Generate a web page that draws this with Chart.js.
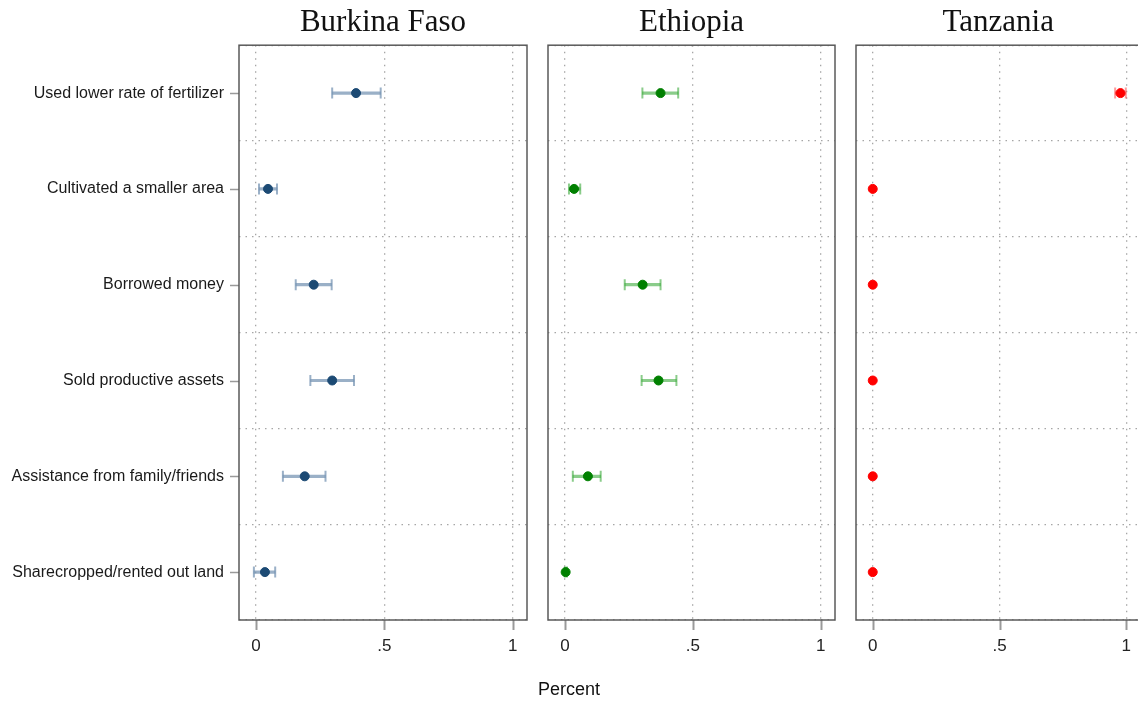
<!DOCTYPE html>
<html>
<head>
<meta charset="utf-8">
<script src="https://cdn.jsdelivr.net/npm/chart.js@4/dist/chart.umd.min.js"></script>
<style>
  html, body { margin: 0; padding: 0; background: #fff; }
  body { width: 1138px; height: 703px; overflow: hidden; position: relative; }
  .panel { position: absolute; top: 0; height: 703px; }
  #xlabel { position: absolute; top: 679px; left: 0; width: 1138px; text-align: center;
            font: 18px "Liberation Sans", Arial, sans-serif; color: #111; }
</style>
</head>
<body>
<div class="panel" style="left:0;width:540px"><canvas id="c1"></canvas></div>
<div class="panel" style="left:540px;width:305px"><canvas id="c2"></canvas></div>
<div class="panel" style="left:848px;width:300px"><canvas id="c3"></canvas></div>
<div id="xlabel">Percent</div>
<script>
// Coping strategies, share of households with 95% confidence intervals
const strategies = [
  'Used lower rate of fertilizer',
  'Cultivated a smaller area',
  'Borrowed money',
  'Sold productive assets',
  'Assistance from family/friends',
  'Sharecropped/rented out land'
];
const countries = ['Burkina Faso', 'Ethiopia', 'Tanzania'];

const burkinaMean  = [0.390, 0.047, 0.225, 0.297, 0.190, 0.035];
const burkinaLow   = [0.297, 0.012, 0.155, 0.212, 0.105, -0.008];
const burkinaHigh  = [0.486, 0.082, 0.295, 0.382, 0.271, 0.075];

const ethiopiaMean = [0.374, 0.036, 0.304, 0.366, 0.090, 0.003];
const ethiopiaLow  = [0.303, 0.016, 0.234, 0.300, 0.031, 0.000];
const ethiopiaHigh = [0.443, 0.060, 0.374, 0.436, 0.140, 0.008];

const tanzaniaMean = [0.977, 0, 0, 0, 0, 0];
const tanzaniaLow  = [0.956, 0, 0, 0, 0, 0];
const tanzaniaHigh = [0.998, 0, 0, 0, 0, 0];

const xTickValues = [0, 0.5, 1];
const xTickLabels = ['0', '.5', '1'];

const FONT_SANS = '"Liberation Sans", Arial, sans-serif';
const FONT_SERIF = '"Liberation Serif", "Times New Roman", serif';

// Panel frame plus solid tick marks (grid lines themselves are dotted)
const framePlugin = {
  id: 'frame',
  afterDraw(chart, args, opts) {
    const { ctx, chartArea: a, scales } = chart;
    ctx.save();
    // x tick marks below the frame
    ctx.strokeStyle = '#9a9a9a';
    ctx.lineWidth = 2;
    scales.x.ticks.forEach(t => {
      const px = Math.round(scales.x.getPixelForValue(t.value)) + 0.5;
      ctx.beginPath(); ctx.moveTo(px, a.bottom); ctx.lineTo(px, a.bottom + 10); ctx.stroke();
    });
    // y tick marks at category centres (first panel only)
    if (opts.yTicks) {
      ctx.lineWidth = 1.5;
      strategies.forEach((s, i) => {
        const py = Math.round(scales.y.getPixelForValue(i)) + 0.5;
        ctx.beginPath(); ctx.moveTo(a.left - 9, py); ctx.lineTo(a.left, py); ctx.stroke();
      });
    }
    // frame
    ctx.strokeStyle = '#5a5a5a';
    ctx.lineWidth = 1.5;
    ctx.strokeRect(a.left, a.top, a.right - a.left, a.bottom - a.top);
    ctx.restore();
  }
};

function makePanel(id, title, mean, low, high, pointColor, barColor, first, padL, padR) {
  const rows = strategies.map((s, i) => i);
  new Chart(document.getElementById(id), {
    type: 'bar',
    data: {
      labels: strategies,
      datasets: [
        { // confidence interval
          type: 'bar',
          data: low.map((lo, i) => [lo, high[i]]),
          backgroundColor: barColor,
          borderWidth: 0,
          barThickness: 2.5,
          order: 3
        },
        { // interval caps
          type: 'line',
          indexAxis: 'y',
          data: rows.flatMap(i => [{ x: low[i], y: strategies[i] }, { x: high[i], y: strategies[i] }])
                    .filter(p => p.x !== 0 || mean[strategies.indexOf(p.y)] !== 0),
          showLine: false,
          pointStyle: 'line',
          rotation: 90,
          pointRadius: 5.5,
          pointBorderWidth: 2,
          pointBorderColor: barColor,
          order: 2
        },
        { // estimate
          type: 'line',
          indexAxis: 'y',
          data: rows.map(i => ({ x: mean[i], y: strategies[i] })),
          showLine: false,
          pointStyle: 'circle',
          pointRadius: 4.5,
          pointBorderWidth: 1,
          pointBackgroundColor: pointColor,
          pointBorderColor: pointColor,
          order: 1
        }
      ]
    },
    options: {
      indexAxis: 'y',
      responsive: false,
      animation: false,
      events: [],
      layout: { padding: { left: padL, right: padR, top: 0, bottom: 0 } },
      plugins: {
        legend: { display: false },
        tooltip: { enabled: false },
        title: {
          display: true, text: title, fullSize: false, color: '#111',
          font: { family: FONT_SERIF, size: 31, weight: 'normal' },
          padding: { top: 4, bottom: 4 }
        },
        frame: { yTicks: first }
      },
      scales: {
        x: {
          type: 'linear', position: 'bottom',
          min: -0.066, max: 1.056,
          afterBuildTicks: s => { s.ticks = xTickValues.map(v => ({ value: v })); },
          afterFit: s => { s.height = 703 - 620; },
          ticks: {
            callback: v => xTickLabels[xTickValues.indexOf(v)],
            color: '#222', padding: 16, maxRotation: 0,
            font: { family: FONT_SANS, size: 17 }
          },
          grid: { color: '#a6a6a6', lineWidth: 1.3, drawTicks: false },
          border: { display: false, dash: [1.5, 5] }
        },
        y: {
          type: 'category', offset: true,
          afterFit: s => { s.width = first ? 239 : 0; },
          ticks: {
            display: first, color: '#1a1a1a', padding: 15,
            font: { family: FONT_SANS, size: 16 }
          },
          grid: { color: '#a6a6a6', lineWidth: 1.3, offset: true, drawTicks: false },
          border: { display: false, dash: [1.5, 5] }
        }
      }
    },
    plugins: [framePlugin]
  });
}

function sizeCanvas(id, w) {
  const c = document.getElementById(id);
  c.width = w; c.height = 703;
  c.style.width = w + 'px'; c.style.height = '703px';
}
sizeCanvas('c1', 540); sizeCanvas('c2', 305); sizeCanvas('c3', 300);

makePanel('c1', countries[0], burkinaMean, burkinaLow, burkinaHigh, '#1c4a74', 'rgba(120,150,180,0.75)', true, 0, 13);
makePanel('c2', countries[1], ethiopiaMean, ethiopiaLow, ethiopiaHigh, '#008000', 'rgba(60,170,60,0.6)', false, 8, 10);
makePanel('c3', countries[2], tanzaniaMean, tanzaniaLow, tanzaniaHigh, '#ff0000', 'rgba(255,90,90,0.6)', false, 8, 4);
</script>
</body>
</html>
